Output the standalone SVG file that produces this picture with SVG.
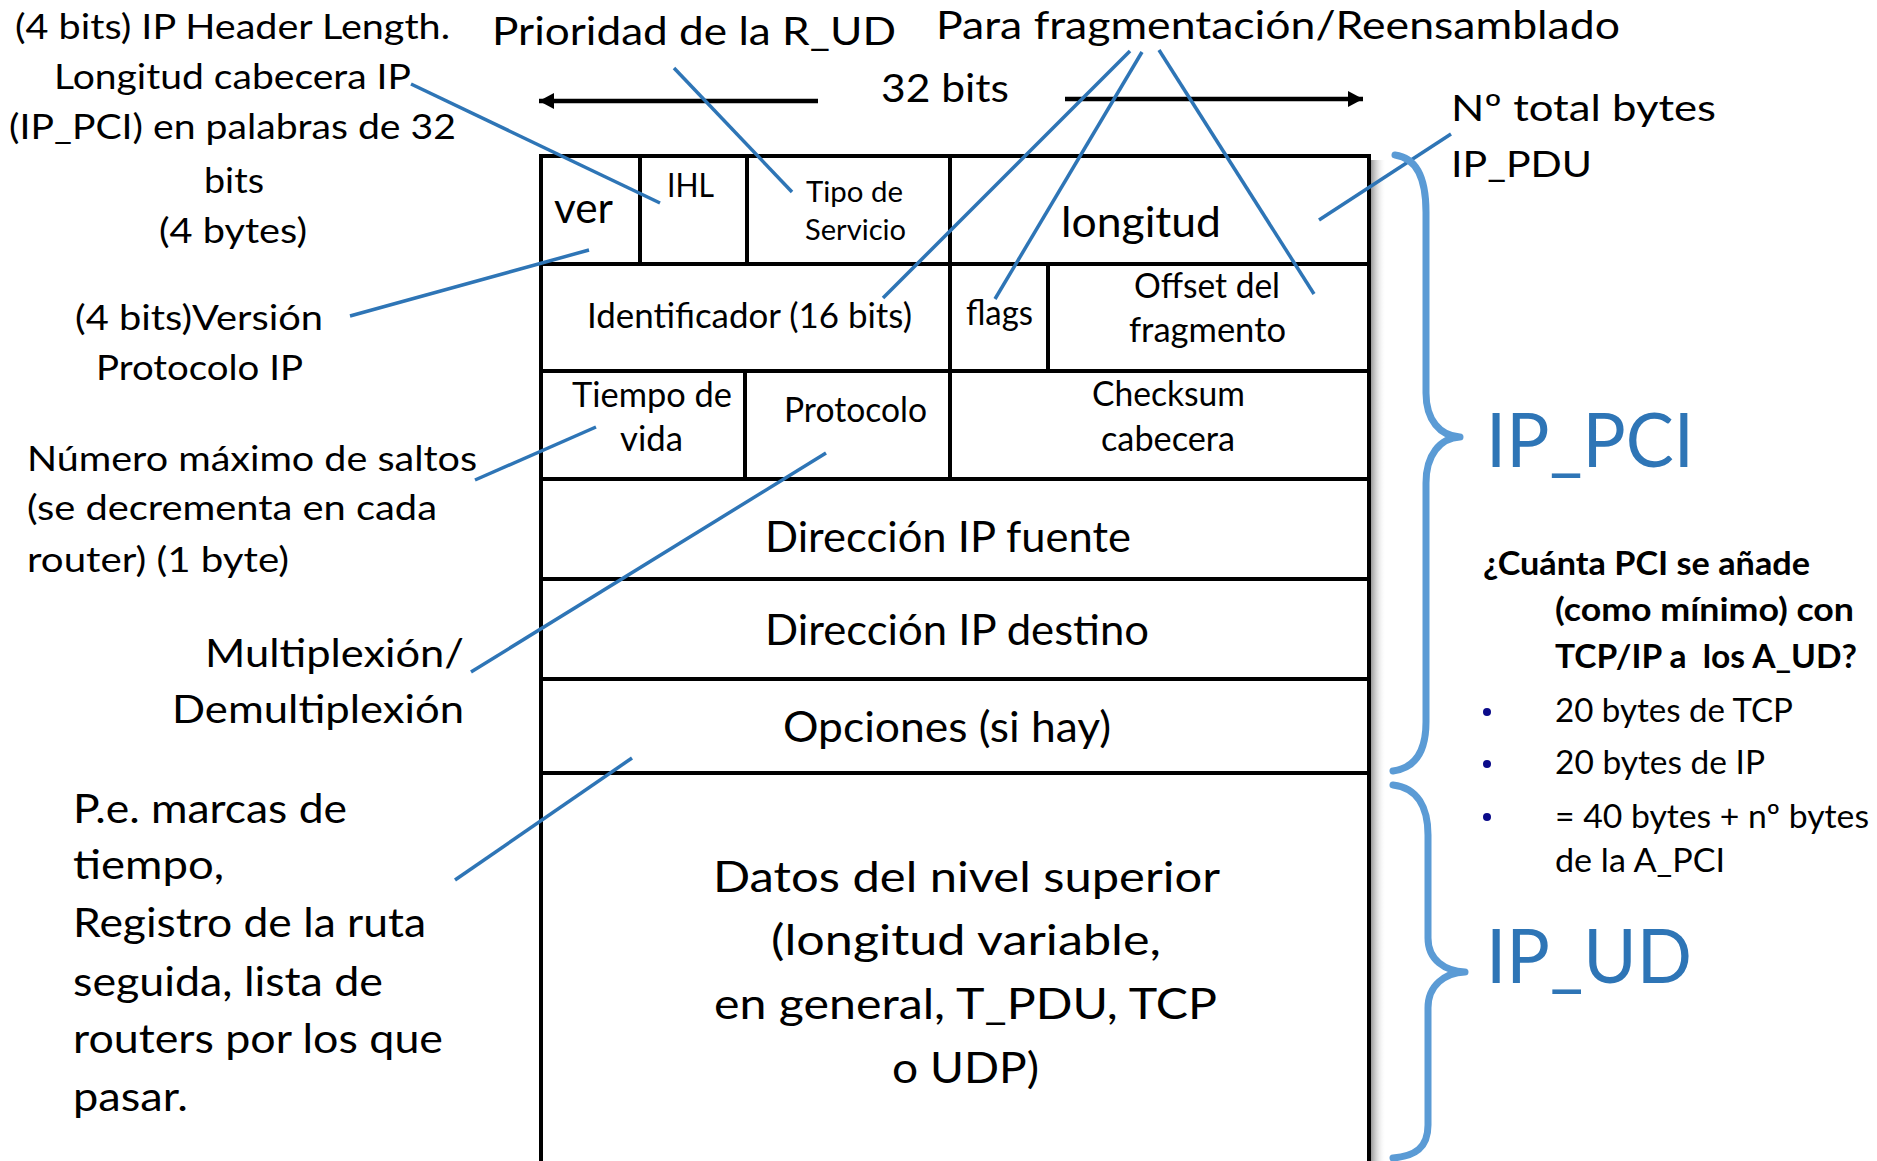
<svg xmlns="http://www.w3.org/2000/svg" width="1877" height="1161" viewBox="0 0 1877 1161">
<defs>
<style>
.t{font-family:Lato,"Liberation Sans",sans-serif;fill:#000}
.grid{stroke:#000;stroke-width:4;fill:none}
.lead{stroke:#2E75B6;stroke-width:3.5;fill:none}
.brace{stroke:#5B9BD5;stroke-width:7;fill:none;stroke-linecap:round;stroke-linejoin:round}
.arr{stroke:#000;stroke-width:4.5;fill:none}
.blue{fill:#2E75B6}
.dot{fill:#0B0B8A}
</style>
<linearGradient id="shadow" x1="0" y1="0" x2="1" y2="0">
<stop offset="0" stop-color="#7f7f7f" stop-opacity="0.8"/>
<stop offset="1" stop-color="#ffffff" stop-opacity="0"/>
</linearGradient>
<marker id="ah" viewBox="0 0 15 16" refX="15" refY="8" markerWidth="15" markerHeight="16" markerUnits="userSpaceOnUse" orient="auto">
<path d="M0,0 L15,8 L0,16 Z" fill="#000"/>
</marker>
</defs>
<rect width="1877" height="1161" fill="#fff"/>

<g id="table">
<rect x="1371" y="160" width="15" height="1001" fill="url(#shadow)"/>
<path class="grid" d="M541,1161 L541,156 L1369,156 L1369,1161"/>
<path class="grid" d="M541,264 H1369 M541,371 H1369 M541,479 H1369 M541,579 H1369 M541,679 H1369 M541,773 H1369"/>
<path class="grid" d="M640,156 V264 M747,156 V264 M950,156 V479 M1048,264 V371 M745,371 V479"/>
</g>

<g id="node-ver"><text class="t" x="554" y="223" font-size="42" textLength="59" lengthAdjust="spacingAndGlyphs">ver</text></g>
<g id="node-ihl"><text class="t" x="667" y="197" font-size="33" textLength="47" lengthAdjust="spacingAndGlyphs">IHL</text></g>
<g id="node-tipo">
<text class="t" x="806" y="202" font-size="29" textLength="97" lengthAdjust="spacingAndGlyphs">Tipo de</text>
<text class="t" x="805" y="240" font-size="29" textLength="101" lengthAdjust="spacingAndGlyphs">Servicio</text>
</g>
<g id="node-longitud"><text class="t" x="1061" y="237" font-size="43" textLength="160" lengthAdjust="spacingAndGlyphs">longitud</text></g>
<g id="node-ident"><text class="t" x="587" y="328" font-size="34" textLength="325" lengthAdjust="spacingAndGlyphs">Identificador (16 bits)</text></g>
<g id="node-flags"><text class="t" x="966" y="325" font-size="34" textLength="67" lengthAdjust="spacingAndGlyphs">flags</text></g>
<g id="node-offset">
<text class="t" x="1134" y="298" font-size="34" textLength="146" lengthAdjust="spacingAndGlyphs">Offset del</text>
<text class="t" x="1129" y="342" font-size="34" textLength="157" lengthAdjust="spacingAndGlyphs">fragmento</text>
</g>
<g id="node-tiempo">
<text class="t" x="572" y="407" font-size="34" textLength="160" lengthAdjust="spacingAndGlyphs">Tiempo de</text>
<text class="t" x="620" y="451" font-size="34" textLength="63" lengthAdjust="spacingAndGlyphs">vida</text>
</g>
<g id="node-protocolo"><text class="t" x="784" y="422" font-size="34" textLength="143" lengthAdjust="spacingAndGlyphs">Protocolo</text></g>
<g id="node-checksum">
<text class="t" x="1092" y="406" font-size="34" textLength="153" lengthAdjust="spacingAndGlyphs">Checksum</text>
<text class="t" x="1101" y="451" font-size="34" textLength="134" lengthAdjust="spacingAndGlyphs">cabecera</text>
</g>
<g id="node-fuente"><text class="t" x="765" y="552" font-size="43" textLength="366" lengthAdjust="spacingAndGlyphs">Dirección IP fuente</text></g>
<g id="node-destino"><text class="t" x="765" y="645" font-size="43" textLength="384" lengthAdjust="spacingAndGlyphs">Dirección IP destino</text></g>
<g id="node-opciones"><text class="t" x="783" y="742" font-size="43" textLength="328" lengthAdjust="spacingAndGlyphs">Opciones (si hay)</text></g>
<g id="node-datos">
<text class="t" x="713" y="892" font-size="43" textLength="507" lengthAdjust="spacingAndGlyphs">Datos del nivel superior</text>
<text class="t" x="771" y="955" font-size="43" textLength="390" lengthAdjust="spacingAndGlyphs">(longitud variable,</text>
<text class="t" x="714" y="1019" font-size="43" textLength="503" lengthAdjust="spacingAndGlyphs">en general, T_PDU, TCP</text>
<text class="t" x="892" y="1083" font-size="43" textLength="147" lengthAdjust="spacingAndGlyphs">o UDP)</text>
</g>

<g id="label-ihl">
<text class="t" x="15" y="39" font-size="34" textLength="435" lengthAdjust="spacingAndGlyphs">(4 bits) IP Header Length.</text>
<text class="t" x="54" y="89" font-size="34" textLength="357" lengthAdjust="spacingAndGlyphs">Longitud cabecera IP</text>
<text class="t" x="9" y="139" font-size="34" textLength="447" lengthAdjust="spacingAndGlyphs">(IP_PCI) en palabras de 32</text>
<text class="t" x="204" y="193" font-size="34" textLength="60" lengthAdjust="spacingAndGlyphs">bits</text>
<text class="t" x="159" y="243" font-size="34" textLength="148" lengthAdjust="spacingAndGlyphs">(4 bytes)</text>
</g>
<g id="label-prioridad"><text class="t" x="492" y="45" font-size="38" textLength="404" lengthAdjust="spacingAndGlyphs">Prioridad de la R_UD</text></g>
<g id="label-32bits"><text class="t" x="881" y="102" font-size="38" textLength="128" lengthAdjust="spacingAndGlyphs">32 bits</text></g>
<g id="label-frag"><text class="t" x="936" y="39" font-size="38" textLength="684" lengthAdjust="spacingAndGlyphs">Para fragmentación/Reensamblado</text></g>
<g id="label-total">
<text class="t" x="1451" y="121" font-size="37" textLength="265" lengthAdjust="spacingAndGlyphs">Nº total bytes</text>
<text class="t" x="1451" y="177" font-size="37" textLength="141" lengthAdjust="spacingAndGlyphs">IP_PDU</text>
</g>
<g id="label-version">
<text class="t" x="75" y="330" font-size="34" textLength="248" lengthAdjust="spacingAndGlyphs">(4 bits)Versión</text>
<text class="t" x="96" y="380" font-size="34" textLength="207" lengthAdjust="spacingAndGlyphs">Protocolo IP</text>
</g>
<g id="label-saltos">
<text class="t" x="27" y="471" font-size="35" textLength="450" lengthAdjust="spacingAndGlyphs">Número máximo de saltos</text>
<text class="t" x="27" y="520" font-size="35" textLength="410" lengthAdjust="spacingAndGlyphs">(se decrementa en cada</text>
<text class="t" x="27" y="572" font-size="35" textLength="262" lengthAdjust="spacingAndGlyphs">router) (1 byte)</text>
</g>
<g id="label-mux">
<text class="t" x="205" y="667" font-size="39" textLength="259" lengthAdjust="spacingAndGlyphs">Multiplexión/</text>
<text class="t" x="172" y="723" font-size="39" textLength="292" lengthAdjust="spacingAndGlyphs">Demultiplexión</text>
</g>
<g id="label-opciones">
<text class="t" x="73" y="823" font-size="40" textLength="274" lengthAdjust="spacingAndGlyphs">P.e. marcas de</text>
<text class="t" x="73" y="879" font-size="40" textLength="151" lengthAdjust="spacingAndGlyphs">tiempo,</text>
<text class="t" x="73" y="937" font-size="40" textLength="353" lengthAdjust="spacingAndGlyphs">Registro de la ruta</text>
<text class="t" x="73" y="996" font-size="40" textLength="310" lengthAdjust="spacingAndGlyphs">seguida, lista de</text>
<text class="t" x="73" y="1053" font-size="40" textLength="370" lengthAdjust="spacingAndGlyphs">routers por los que</text>
<text class="t" x="73" y="1111" font-size="40" textLength="115" lengthAdjust="spacingAndGlyphs">pasar.</text>
</g>

<g id="label-ippci"><text class="t blue" x="1486" y="467" font-size="76" textLength="208" lengthAdjust="spacingAndGlyphs">IP_PCI</text></g>
<g id="label-ipud"><text class="t blue" x="1486" y="983" font-size="76" textLength="206" lengthAdjust="spacingAndGlyphs">IP_UD</text></g>

<g id="question">
<text class="t" x="1483" y="575" font-size="33" font-weight="bold" textLength="327" lengthAdjust="spacingAndGlyphs">¿Cuánta PCI se añade</text>
<text class="t" x="1555" y="621" font-size="33" font-weight="bold" textLength="299" lengthAdjust="spacingAndGlyphs">(como mínimo) con</text>
<text class="t" x="1555" y="668" font-size="33" font-weight="bold" xml:space="preserve" textLength="302" lengthAdjust="spacingAndGlyphs">TCP/IP a  los A_UD?</text>
<circle class="dot" cx="1487" cy="712" r="4"/>
<circle class="dot" cx="1487" cy="764" r="4"/>
<circle class="dot" cx="1487" cy="817" r="4"/>
<text class="t" x="1555" y="722" font-size="33" textLength="238" lengthAdjust="spacingAndGlyphs">20 bytes de TCP</text>
<text class="t" x="1555" y="774" font-size="33" textLength="210" lengthAdjust="spacingAndGlyphs">20 bytes de IP</text>
<text class="t" x="1555" y="828" font-size="33" textLength="314" lengthAdjust="spacingAndGlyphs">= 40 bytes + nº bytes</text>
<text class="t" x="1555" y="872" font-size="33" textLength="170" lengthAdjust="spacingAndGlyphs">de la A_PCI</text>
</g>

<g id="connectors">
<line class="arr" x1="818" y1="101" x2="539" y2="101" marker-end="url(#ah)"/>
<line class="arr" x1="1065" y1="99" x2="1363" y2="99" marker-end="url(#ah)"/>
<line class="lead" x1="411" y1="84" x2="660" y2="203"/>
<line class="lead" x1="674" y1="68" x2="792" y2="192"/>
<line class="lead" x1="350" y1="316" x2="589" y2="250"/>
<line class="lead" x1="1130" y1="51" x2="883" y2="298"/>
<line class="lead" x1="1142" y1="52" x2="995" y2="299"/>
<line class="lead" x1="1159" y1="50" x2="1314" y2="294"/>
<line class="lead" x1="1451" y1="134" x2="1319" y2="220"/>
<line class="lead" x1="475" y1="480" x2="596" y2="427"/>
<line class="lead" x1="471" y1="672" x2="826" y2="453"/>
<line class="lead" x1="455" y1="880" x2="632" y2="758"/>
<path class="brace" d="M1395,155 C1418,158 1426,180 1426,212 L1426,393 C1426,420 1440,436 1460,437 C1440,438 1426,455 1426,483 L1426,722 C1426,752 1415,768 1393,771"/>
<path class="brace" d="M1393,785 C1418,788 1428,808 1428,835 L1428,938 C1428,960 1445,971 1465,972 C1445,973 1428,985 1428,1008 L1428,1125 C1428,1148 1415,1156 1393,1158"/>
</g>
</svg>
